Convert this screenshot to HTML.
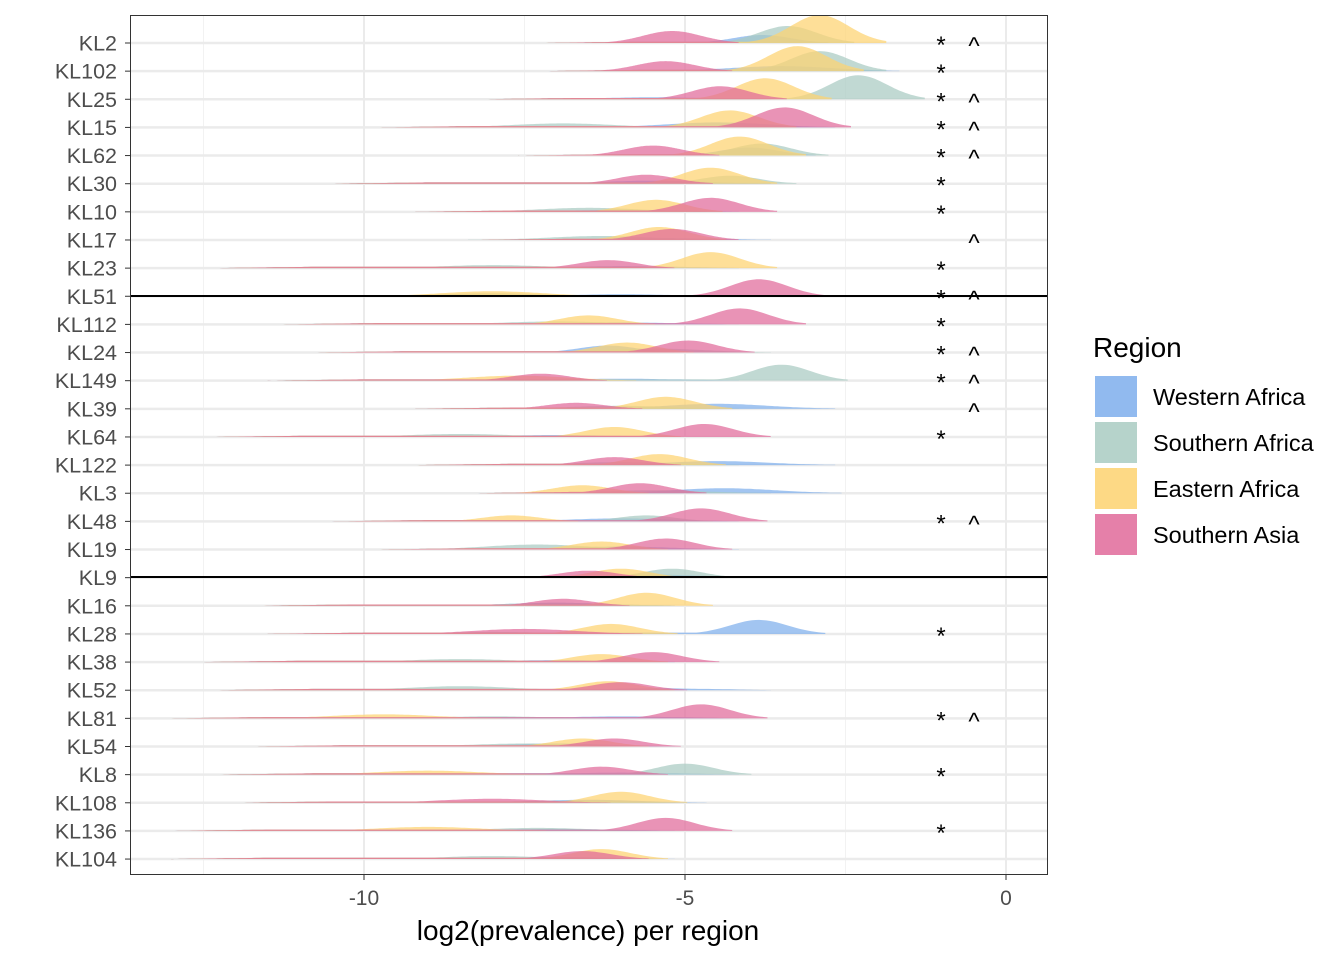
<!DOCTYPE html>
<html><head><meta charset="utf-8">
<style>
body{margin:0;background:#fff;}
svg{display:block;font-family:"Liberation Sans",Arial,sans-serif;}
</style></head>
<body>
<svg id="chart" width="1344" height="960" viewBox="0 0 1344 960">
<rect x="0" y="0" width="1344" height="960" fill="#fff"/>
<g id="grid"></g>
<g id="ridges"></g>
<g id="marks"></g>
<line x1="130" x2="1047" y1="296" y2="296" stroke="#000" stroke-width="2"/>
<line x1="130" x2="1047" y1="577" y2="577" stroke="#000" stroke-width="2"/>
<rect x="130.5" y="15.5" width="917" height="859" fill="none" stroke="#333" stroke-width="1"/>
<g id="yaxis"></g>
<g id="xaxis"></g>
<text x="588" y="940" text-anchor="middle" font-size="28" fill="#000">log2(prevalence) per region</text>
<g id="legend">
<text x="1093" y="357" font-size="28" fill="#000">Region</text>
</g>
</svg>
<script>
const rows = ["KL2","KL102","KL25","KL15","KL62","KL30","KL10","KL17","KL23","KL51","KL112","KL24","KL149","KL39","KL64","KL122","KL3","KL48","KL19","KL9","KL16","KL28","KL38","KL52","KL81","KL54","KL8","KL108","KL136","KL104"];
const regions = ["Western Africa","Southern Africa","Eastern Africa","Southern Asia"];
const colors = ["#7EAEEC","#A9CBC2","#FDD270","#E06A9A"];
const westCenter = [-3.8,-3.5,-5.5,-4.5,-4.0,-5.5,-6,-5.5,-6,-6,-6,-6.2,-6,-4.5,-7,-4.5,-4.4,-6,-6,-5.5,-7,-3.85,-7,-5.5,-6,-7,-6,-6.5,-7,-7];
const westHeight = [8,5,2,5,8,3,2,2,2,2,2,7,2,5,2,4,5,3,3,3,3,14,2,2,2,3,2,3,2,2];
const southAfCenter = [-3.4,-2.9,-2.3,-6.9,-3.8,-4.3,-6.5,-6.3,-8,-8,-7,-5.5,-3.5,-6,-8.5,-6,-5.5,-5.6,-7.3,-5.2,-7,-8,-8.5,-8.5,-8,-7.5,-5.0,-7,-7.3,-8];
const southAfHeight = [17,20,24,4,12,8,4,4,3,3,3,4,16,3,3,3,3,6,5,9,3,2,3,4,2,3,11,2,3,3];
const eastCenter = [-2.9,-3.25,-3.75,-4.3,-4.15,-4.6,-5.45,-5.4,-4.6,-8,-6.5,-5.9,-7.6,-5.3,-6.1,-5.4,-6.6,-7.7,-6.3,-6,-5.6,-6.15,-6.3,-6.2,-9.7,-6.6,-9,-6,-9,-6.3];
const eastHeight = [28,25,21,17,19,16,12,13,16,5,9,10,5,12,10,11,8,6,8,9,13,10,8,9,4,8,4,11,4,10];
const asiaCenter = [-5.2,-5.3,-4.45,-3.45,-5.5,-5.6,-4.6,-5.2,-6.2,-3.85,-4.15,-4.95,-7.25,-6.7,-4.7,-6.1,-5.7,-4.75,-5.3,-6.5,-6.9,-7.5,-5.5,-6,-4.75,-6.1,-6.3,-8,-5.3,-6.6];
const asiaHeight = [12,10,13,20,10,9,14,11,8,17,16,12,7,6,13,8,10,13,11,7,7,5,10,8,14,8,8,4,13,8];
const rowMin = [-7.2,-7.2,-8.2,-9.8,-7.6,-10.5,-9.2,-8.2,-12.3,-13.5,-11.3,-10.8,-11.5,-9.2,-12.3,-9.2,-8.3,-10.5,-9.8,-9.5,-11.7,-11.5,-12.5,-12.3,-13,-11.7,-12.3,-12,-13,-13];
const starRows = ["KL2","KL102","KL25","KL15","KL62","KL30","KL10","KL23","KL51","KL112","KL24","KL149","KL64","KL48","KL28","KL81","KL8","KL136"];
const caretRows = ["KL2","KL25","KL15","KL62","KL17","KL51","KL24","KL149","KL39","KL48","KL81"];
const xTicks = [-10,-5,0];
const xMinor = [-12.5,-7.5,-2.5];

const NS="http://www.w3.org/2000/svg";
const xs = v => 1006 + v*64.2;
const ys = i => 43 + i*28.14;
function mk(tag, attrs, parent){const e=document.createElementNS(NS,tag);for(const k in attrs)e.setAttribute(k,attrs[k]);parent.appendChild(e);return e;}

const grid=document.getElementById('grid');
xMinor.forEach(v=>{const l=mk('line',{x1:xs(v),x2:xs(v),y1:16,y2:874,stroke:'#F2F2F2','stroke-width':1},grid);

});
xTicks.forEach(v=>{const l=mk('line',{x1:xs(v),x2:xs(v),y1:16,y2:874,stroke:'#EBEBEB','stroke-width':2},grid);

});
rows.forEach((r,i)=>{const l=mk('line',{x1:131,x2:1047,y1:ys(i),y2:ys(i),stroke:'#EBEBEB','stroke-width':2.5},grid);

});

const series=[[westCenter,westHeight],[southAfCenter,southAfHeight],[eastCenter,eastHeight],[asiaCenter,asiaHeight]];
const ridges=document.getElementById('ridges');
rows.forEach((r,i)=>{
  const g=mk('g',{},ridges);
  
  
  series.forEach((s,k)=>{
    const c=s[0][i], h=s[1][i], lo=rowMin[i];
    const sd = h<=5 ? 0.8 : 0.45;
    const hi = c+2.3*sd;
    const start=Math.min(lo,c-2.6*sd);
    const base=ys(i);
    let d='M'+xs(start)+','+base;
    const n=160;
    for(let j=0;j<=n;j++){
      const x=start+(hi-start)*j/n;
      let v=h*Math.exp(-0.5*((x-c)/sd)**2);
      const t=Math.min(1,(x-start)/1.5)*Math.min(1,(hi-x)/(1.2*sd));
      v=Math.max(v,1.3*t);
      d+=' L'+xs(x).toFixed(1)+','+(base-v).toFixed(1);
    }
    d+=' L'+xs(hi)+','+base+' Z';
    const p=mk('path',{d:d,fill:colors[k],'fill-opacity':0.72,stroke:'none'},g);
    
    
  });
});

const marks=document.getElementById('marks');
rows.forEach((r,i)=>{
  if(starRows.includes(r)){const t=mk('text',{x:941,y:ys(i)+10,'text-anchor':'middle','font-size':24,fill:'#000'},marks);t.textContent='*';
  
  }
  if(caretRows.includes(r)){const t=mk('text',{x:974,y:ys(i)+11,'text-anchor':'middle','font-size':24,fill:'#000'},marks);t.textContent='^';
  
  }
});

const yaxis=document.getElementById('yaxis');
rows.forEach((r,i)=>{
  const t=mk('text',{x:117,y:ys(i)+7.5,'text-anchor':'end','font-size':21.5,fill:'#4D4D4D'},yaxis);t.textContent=r;
  
  
  const l=mk('line',{x1:125,x2:130,y1:ys(i),y2:ys(i),stroke:'#333','stroke-width':1},yaxis);
  
  
});
const xaxis=document.getElementById('xaxis');
xTicks.forEach(v=>{
  const l=mk('line',{x1:xs(v),x2:xs(v),y1:875,y2:880,stroke:'#333','stroke-width':1},xaxis);
  
  
  const t=mk('text',{x:xs(v),y:905,'text-anchor':'middle','font-size':21,fill:'#4D4D4D'},xaxis);t.textContent=String(v);
  
  
});

const legend=document.getElementById('legend');
regions.forEach((r,k)=>{
  const g=mk('g',{},legend);
  
  
  mk('rect',{x:1095,y:376+k*46,width:42,height:41,fill:colors[k],'fill-opacity':0.85},g);
  const t=mk('text',{x:1153,y:405+k*46,'font-size':23.5,fill:'#000'},g);t.textContent=r;
});
</script>
</body></html>
